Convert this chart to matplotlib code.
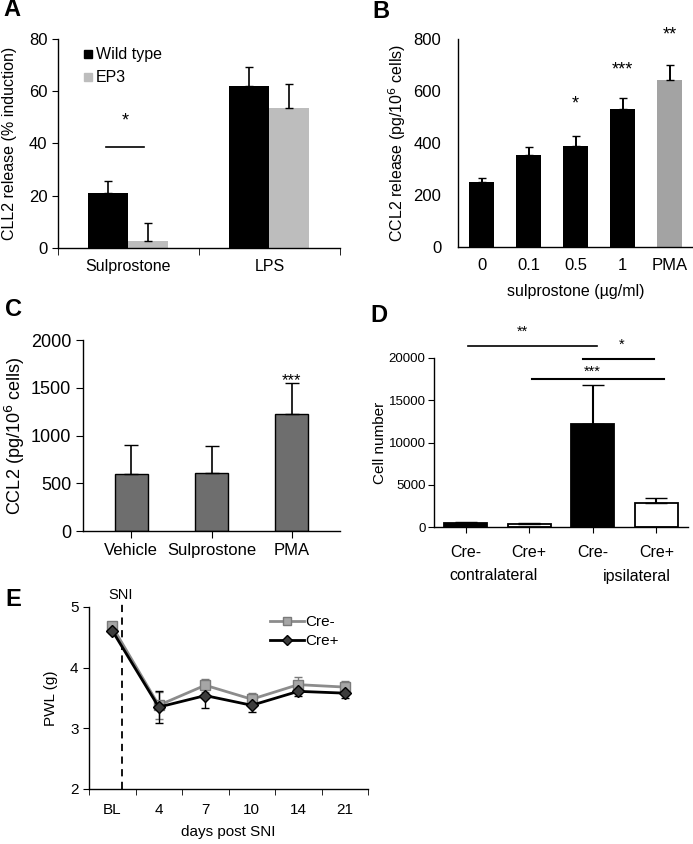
import matplotlib
matplotlib.use('Agg')
import matplotlib.pyplot as plt
from matplotlib.lines import Line2D

plt.rcParams['font.family'] = ['Liberation Sans', 'DejaVu Sans']
plt.rcParams['axes.linewidth'] = 1.0

W, H = 693, 844

# panel A
a_groups = ['Sulprostone', 'LPS']
a_wt = [21, 62]
a_wt_err = [4.7, 7.3]
a_ep3 = [2.5, 53.7]
a_ep3_err = [7.2, 9.0]

# panel B
b_labels = ['0', '0.1', '0.5', '1', 'PMA']
b_vals = [250, 352, 390, 532, 643]
b_err = [15, 33, 38, 41, 57]
b_stars = ['', '', '*', '***', '**']
b_star_y = [0, 0, 531, 665, 800]

# panel C
c_labels = ['Vehicle', 'Sulprostone', 'PMA']
c_vals = [600, 610, 1220]
c_err = [300, 285, 325]

# panel D
d_labels = ['Cre-', 'Cre+', 'Cre-', 'Cre+']
d_vals = [450, 350, 12200, 2800]
d_err = [200, 130, 4600, 600]
d_colors = ['black', 'white', 'black', 'white']

# panel E
e_labels = ['BL', '4', '7', '10', '14', '21']
e_cre_minus = [4.68, 3.38, 3.71, 3.48, 3.72, 3.68]
e_cre_minus_err = [0.05, 0.22, 0.11, 0.10, 0.12, 0.10]
e_cre_plus = [4.61, 3.35, 3.54, 3.38, 3.61, 3.58]
e_cre_plus_err = [0.04, 0.27, 0.20, 0.11, 0.07, 0.08]


def px_axes(fig, x0, y0, x1, y1):
    ax = fig.add_axes([x0 / W, 1 - y1 / H, (x1 - x0) / W, (y1 - y0) / H])
    ax.spines['top'].set_visible(False)
    ax.spines['right'].set_visible(False)
    return ax


fig = plt.figure(figsize=(W / 100, H / 100), dpi=100)

# ---- A ----
ax = px_axes(fig, 58, 39, 340, 248)
xs = [i + 0.355 for i in range(len(a_groups))]
xs2 = [i + 0.638 for i in range(len(a_groups))]
ax.bar(xs, a_wt, width=0.284, color='black')
ax.bar(xs2, a_ep3, width=0.284, color='#bdbdbd')
ax.errorbar(xs, a_wt, yerr=[[0] * 2, a_wt_err], fmt='none', ecolor='black', capsize=3, elinewidth=1.2)
ax.errorbar(xs2, a_ep3, yerr=[[0] * 2, a_ep3_err], fmt='none', ecolor='black', capsize=3, elinewidth=1.2)
ax.set_xlim(0, 2)
ax.set_ylim(0, 80)
ax.set_yticks([0, 20, 40, 60, 80])
ax.set_xticks([0.5, 1.5])
ax.set_xticklabels(a_groups)
ax.set_xticks([0, 1, 2], minor=True)
ax.tick_params(axis='x', which='major', length=0, pad=8, labelsize=11.5)
ax.tick_params(axis='x', which='minor', length=5, direction='out')
ax.tick_params(axis='y', length=4, labelsize=12)
ax.set_ylabel('CLL2 release (% induction)', fontsize=11.5)
ax.yaxis.set_label_coords(-0.145, 0.5)
ax.plot([0.34, 0.61], [38.5, 38.5], color='black', lw=1.2)
ax.text(0.475, 47, '*', ha='center', va='baseline', fontsize=13)
handles = [Line2D([], [], marker='s', ls='', color='black', markersize=6),
           Line2D([], [], marker='s', ls='', color='#bdbdbd', markersize=6)]
ax.legend(handles, ['Wild type', 'EP3'], loc='upper left', bbox_to_anchor=(0.04, 1.03),
          frameon=False, fontsize=11.5, handlelength=0.5, handletextpad=0.25, labelspacing=0.5)
fig.text(3 / W, 1 - 10 / H, 'A', fontsize=17, fontweight='bold', va='center')

# ---- B ----
ax = px_axes(fig, 458, 39, 693, 247)
bx = list(range(len(b_labels)))
b_cols = ['black'] * 4 + ['#a3a3a3']
ax.bar(bx, b_vals, width=0.52, color=b_cols)
ax.errorbar(bx, b_vals, yerr=[[0] * 5, b_err], fmt='none', ecolor='black', capsize=3, elinewidth=1.4)
ax.set_xlim(-0.5, 4.5)
ax.set_ylim(0, 800)
ax.set_yticks([0, 200, 400, 600, 800])
ax.set_xticks(bx)
ax.set_xticklabels(b_labels)
ax.tick_params(axis='both', length=0, labelsize=12)
ax.tick_params(axis='y', pad=12)
ax.tick_params(axis='x', pad=8)
for x, s, y in zip(bx, b_stars, b_star_y):
    if s:
        ax.text(x, y, s, ha='center', va='baseline', fontsize=13, clip_on=False)
ax.set_ylabel('CCL2 release (pg/10$^6$ cells)', fontsize=11.5)
ax.yaxis.set_label_coords(-0.213, 0.5)
ax.set_xlabel('sulprostone (µg/ml)', fontsize=11.5, labelpad=8)
fig.text(372 / W, 1 - 11 / H, 'B', fontsize=17, fontweight='bold', va='center')

# ---- C ----
ax = px_axes(fig, 83, 340, 340, 531)
cx = list(range(len(c_labels)))
ax.bar(cx, c_vals, width=0.41, color='#6e6e6e', edgecolor='black', linewidth=1.0)
ax.errorbar(cx, c_vals, yerr=[[0] * 3, c_err], fmt='none', ecolor='black', capsize=5, elinewidth=1.2)
ax.set_xlim(-0.6, 2.6)
ax.set_ylim(0, 2000)
ax.set_yticks([0, 500, 1000, 1500, 2000])
ax.set_xticks(cx)
ax.set_xticklabels(c_labels)
ax.tick_params(axis='both', length=5, labelsize=13)
ax.tick_params(axis='x', labelsize=12)
ax.text(2, 1530, '***', ha='center', va='baseline', fontsize=12)
ax.set_ylabel('CCL2 (pg/10$^6$ cells)', fontsize=13)
ax.yaxis.set_label_coords(-0.218, 0.5)
fig.text(5 / W, 1 - 310 / H, 'C', fontsize=17, fontweight='bold', va='center')

# ---- D ----
ax = px_axes(fig, 434, 358, 688, 527)
dx = list(range(len(d_labels)))
ax.bar(dx, d_vals, width=0.68, color=d_colors, edgecolor='black', linewidth=1.3)
ax.errorbar(dx, d_vals, yerr=[[0] * 4, d_err], fmt='none', ecolor='black', capsize=8, elinewidth=1.5)
ax.set_xlim(-0.5, 3.5)
ax.set_ylim(0, 20000)
ax.set_yticks([0, 5000, 10000, 15000, 20000])
ax.set_xticks(dx)
ax.set_xticklabels(d_labels)
ax.tick_params(axis='both', length=4)
ax.tick_params(axis='y', labelsize=9.5, pad=2)
ax.tick_params(axis='x', pad=9, labelsize=11.5)
ax.set_ylabel('Cell number', fontsize=11)
ax.yaxis.set_label_coords(-0.185, 0.5)
ax.plot([0.03, 2.07], [21420, 21420], color='black', lw=1.2, clip_on=False)
ax.plot([1.85, 2.97], [19880, 19880], color='black', lw=1.5, clip_on=False)
ax.plot([1.05, 3.12], [17515, 17515], color='black', lw=1.5, clip_on=False)
ax.text(0.9, 22600, '**', ha='center', va='baseline', fontsize=10.5, clip_on=False)
ax.text(2.45, 21050, '*', ha='center', va='baseline', fontsize=10.5, clip_on=False)
ax.text(2.0, 17950, '***', ha='center', va='baseline', fontsize=10.5, clip_on=False)
fig.text(493 / W, 1 - 576 / H, 'contralateral', ha='center', va='center', fontsize=11.5)
fig.text(637 / W, 1 - 576 / H, 'ipsilateral', ha='center', va='center', fontsize=11.5)
fig.text(370 / W, 1 - 316 / H, 'D', fontsize=17, fontweight='bold', va='center')

# ---- E ----
ax = px_axes(fig, 89, 607, 368, 789)
ex = list(range(len(e_labels)))
ax.errorbar(ex, e_cre_minus, yerr=e_cre_minus_err, color='#8c8c8c', lw=2, marker='s', markersize=7,
            markerfacecolor='#a6a6a6', markeredgecolor='#7a7a7a', ecolor='#7a7a7a',
            elinewidth=1, capsize=3)
ax.errorbar(ex, e_cre_plus, yerr=e_cre_plus_err, color='black', lw=2, marker='D', markersize=6,
            markerfacecolor='#3c3c3c', markeredgecolor='black', ecolor='black',
            elinewidth=1, capsize=3)
ax.plot([0.21, 0.21], [2, 5.12], color='black', lw=1.3, ls=(0, (4, 3)), clip_on=False)
ax.text(0.17, 5.2, 'SNI', ha='center', va='center', fontsize=10.5, clip_on=False)
ax.set_xlim(-0.5, 5.5)
ax.set_ylim(2, 5)
ax.set_yticks([2, 3, 4, 5])
ax.set_xticks(ex)
ax.set_xticklabels(e_labels)
ax.set_xticks([i - 0.5 for i in range(7)], minor=True)
ax.tick_params(axis='x', which='major', length=0, pad=10, labelsize=11)
ax.tick_params(axis='x', which='minor', length=4, direction='out')
ax.tick_params(axis='y', length=4, labelsize=11)
ax.set_ylabel('PWL (g)', fontsize=11)
ax.yaxis.set_label_coords(-0.111, 0.5)
ax.set_xlabel('days post SNI', fontsize=11, labelpad=6)
e_handles = [Line2D([], [], color='#8c8c8c', lw=2, marker='s', markersize=6,
                    markerfacecolor='#a6a6a6', markeredgecolor='#7a7a7a'),
             Line2D([], [], color='black', lw=2, marker='D', markersize=5,
                    markerfacecolor='#3c3c3c', markeredgecolor='black')]
ax.legend(e_handles, ['Cre-', 'Cre+'], loc='upper left', bbox_to_anchor=(0.6, 1.03), frameon=False,
          fontsize=11, handlelength=2.2, handletextpad=0.1, labelspacing=0.3)
fig.text(5 / W, 1 - 600 / H, 'E', fontsize=17, fontweight='bold', va='center')

fig.savefig('out.png', dpi=100)
